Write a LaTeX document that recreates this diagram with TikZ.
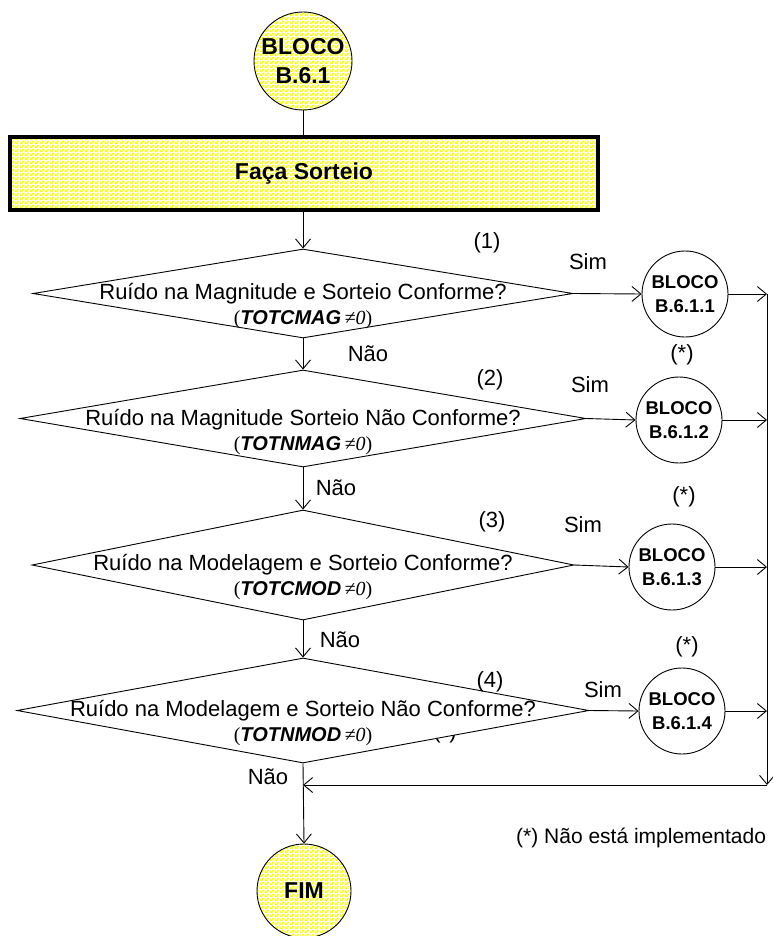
\documentclass[tikz,border=0pt]{standalone}
\usepackage{fontspec}
\setmainfont{Liberation Sans}
\newfontfamily\tnr{Liberation Serif}
\usetikzlibrary{arrows.meta,shapes.geometric,patterns}
\pgfdeclarepatternformonly{yeldash}{\pgfqpoint{0pt}{0pt}}{\pgfqpoint{5pt}{4pt}}{\pgfqpoint{5pt}{4pt}}{%
  \pgfpathrectangle{\pgfqpoint{0pt}{0pt}}{\pgfqpoint{3pt}{2pt}}%
  \pgfpathrectangle{\pgfqpoint{2.5pt}{2pt}}{\pgfqpoint{2.5pt}{2pt}}%
  \pgfpathrectangle{\pgfqpoint{0pt}{2pt}}{\pgfqpoint{0.5pt}{2pt}}%
  \pgfusepath{fill}}
\tikzset{
  arr/.style={line width=0.9pt,-{Straight Barb[length=9pt,width=15pt,line width=0.9pt]}},
  plain/.style={line width=0.9pt},
  dia/.style={draw, diamond, fill=white, inner sep=0pt, line width=0.9pt},
  ylw/.style={preaction={fill=white}, pattern=yeldash, pattern color=yellow},
  blk/.style={draw, circle, minimum size=86pt, inner sep=0pt, line width=0.9pt, align=center, font=\fontsize{18.5}{24}\selectfont\bfseries},
  bigc/.style={draw, circle, inner sep=0pt, line width=0.9pt, align=center, font=\fontsize{23}{29}\selectfont\bfseries, ylw},
  lbl/.style={font=\fontsize{22}{26}\selectfont, inner sep=0pt},
  qtxt/.style={font=\fontsize{22}{24}\selectfont, inner sep=0pt, align=center},
}
\newcommand{\sectxt}[1]{{\fontsize{20}{24}\selectfont{\tnr(}{\bfseries\itshape #1}\,{\tnr\itshape ≠0}{\tnr)}}}
\begin{document}
\begin{tikzpicture}[x=1pt,y=-1pt]
\useasboundingbox (0,0) rectangle (772,936);

% top
\node[bigc, minimum size=98pt] (start) at (303,61) {BLOCO\\B.6.1};
\node[draw, ylw, line width=4pt, minimum width=588pt, minimum height=73pt, inner sep=0pt,
      font=\fontsize{23}{28}\selectfont\bfseries] (sort) at (304,173.5) {Faça Sorteio};
\draw[plain] (start.south) -- (start.south |- sort.north);

% partly hidden label behind diamond 4
\node[lbl] (hid) at (445,733) {(*)};

% diamonds
\node[dia, minimum width=540pt, minimum height=89pt] (d1) at (303,293.5) {};
\node[dia, minimum width=566pt, minimum height=97pt] (d2) at (303,418.5) {};
\node[dia, minimum width=542pt, minimum height=110pt] (d3) at (303,565) {};
\node[dia, minimum width=572pt, minimum height=105pt] (d4) at (303,710.5) {};

\node[qtxt] (t1) at (303,306) {Ruído na Magnitude e Sorteio Conforme?\\[1pt]\sectxt{TOTCMAG}};
\node[qtxt] (t2) at (303,432) {Ruído na Magnitude Sorteio Não Conforme?\\[1pt]\sectxt{TOTNMAG}};
\node[qtxt] (t3) at (303,577) {Ruído na Modelagem e Sorteio Conforme?\\[1pt]\sectxt{TOTCMOD}};
\node[qtxt] (t4) at (303,723) {Ruído na Modelagem e Sorteio Não Conforme?\\[1pt]\sectxt{TOTNMOD}};

% circles
\node[blk] (c1) at (685,294) {BLOCO\\B.6.1.1};
\node[blk] (c2) at (679,420) {BLOCO\\B.6.1.2};
\node[blk] (c3) at (672,567) {BLOCO\\B.6.1.3};
\node[blk] (c4) at (682,711) {BLOCO\\B.6.1.4};

\node[bigc, minimum size=94pt] (fim) at (304,891) {FIM};

% rail coordinates
\coordinate (railtop) at (767,294);
\coordinate (railbot) at (767,785);
\coordinate (join) at (303,785);

% connectors
\draw[arr] (sort.south -| d1.north) -- (d1.north);
\draw[arr] (d1.south) -- (d2.north);
\draw[arr] (d2.south) -- (d3.north);
\draw[arr] (d3.south) -- (d4.north);
\draw[arr] (d4.south) -- (fim.north);

\draw[arr] (d1.east) -- (c1.west);
\draw[arr] (d2.east) -- (c2.west);
\draw[arr] (d3.east) -- (c3.west);
\draw[arr] (d4.east) -- (c4.west);

\draw[arr] (c1.east) -- (c1.east -| railtop);
\draw[arr] (c2.east) -- (c2.east -| railtop);
\draw[arr] (c3.east) -- (c3.east -| railtop);
\draw[arr] (c4.east) -- (c4.east -| railtop);
\draw[arr] (railtop) -- (railbot);
\draw[arr] (railbot) -- (join);

% labels
\node[lbl] (n1) at (487,243) {(1)};
\node[lbl] (n2) at (490,380) {(2)};
\node[lbl] (n3) at (492,522) {(3)};
\node[lbl] (n4) at (490,682) {(4)};

\node[lbl] (s1) at (588,262) {Sim};
\node[lbl] (s2) at (590,385) {Sim};
\node[lbl] (s3) at (583,525) {Sim};
\node[lbl] (s4) at (603,690) {Sim};

\node[lbl] (a2) at (682,355) {(*)};
\node[lbl] (a3) at (684,497) {(*)};
\node[lbl] (a4) at (687,647) {(*)};

\node[lbl] (no1) at (368,354) {Não};
\node[lbl] (no2) at (336,488) {Não};
\node[lbl] (no3) at (340,640) {Não};
\node[lbl] (no4) at (268,777) {Não};

\node[lbl, font=\fontsize{21}{25}\selectfont, anchor=west] (note) at (516,838) {(*) Não está implementado};
\end{tikzpicture}
\end{document}
